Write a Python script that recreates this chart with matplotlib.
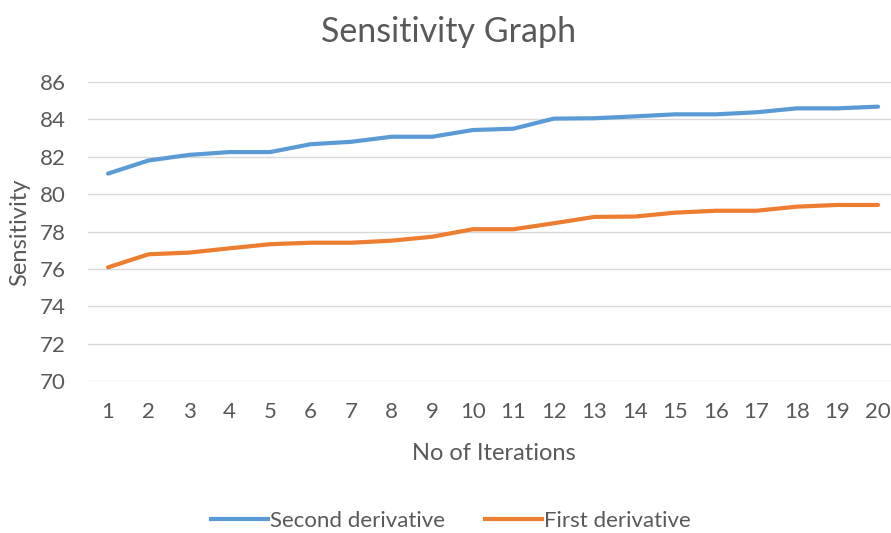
import matplotlib
matplotlib.use("Agg")
import matplotlib.pyplot as plt
from matplotlib.lines import Line2D

# --------------------- Data ---------------------
iterations = list(range(1, 21))
second_derivative = [81.1, 81.8, 82.1, 82.25, 82.25, 82.67, 82.8, 83.07, 83.07, 83.43,
                     83.5, 84.04, 84.06, 84.16, 84.27, 84.27, 84.38, 84.59, 84.59, 84.68]
first_derivative = [76.08, 76.78, 76.87, 77.1, 77.32, 77.4, 77.4, 77.51, 77.72, 78.12,
                    78.12, 78.44, 78.78, 78.8, 79.01, 79.11, 79.11, 79.33, 79.42, 79.42]
y_ticks = [70, 72, 74, 76, 78, 80, 82, 84, 86]

BLUE = "#5B9BD5"
ORANGE = "#ED7D31"
TEXT = "#595959"
GRID = "#D9D9D9"

plt.rcParams["font.family"] = ["Lato", "DejaVu Sans"]

W, H = 891, 533
fig = plt.figure(figsize=(W / 100, H / 100), dpi=100)
# axes spans category slots 0.5..20.5 (right edge slightly beyond the image)
ax = fig.add_axes([87.75 / W, 1 - 381 / H, (898.25 - 87.75) / W, (381 - 82) / H])

ax.plot(iterations, second_derivative, color=BLUE, lw=3, solid_capstyle="round",
        solid_joinstyle="round", label="Second derivative")
ax.plot(iterations, first_derivative, color=ORANGE, lw=3, solid_capstyle="round",
        solid_joinstyle="round", label="First derivative")

ax.set_xlim(0.5, 20.5)
ax.set_ylim(70, 86)
ax.set_xticks(iterations)
ax.set_yticks(y_ticks)
ax.tick_params(length=0, colors=TEXT, labelsize=16)
ax.tick_params(axis="x", pad=15)
ax.tick_params(axis="y", pad=16)
ax.grid(axis="y", color=GRID, lw=1)
ax.set_axisbelow(True)
for s in ax.spines.values():
    s.set_visible(False)

fig.text(449 / W, 1 - 32 / H, "Sensitivity Graph", ha="center", va="center",
         fontsize=24.5, color=TEXT)
fig.text(494 / W, 1 - 453 / H, "No of Iterations", ha="center", va="center",
         fontsize=17, color=TEXT)
fig.text(20 / W, 1 - 232 / H, "Sensitivity", ha="center", va="center",
         rotation=90, fontsize=17, color=TEXT)

handles = [Line2D([], [], color=BLUE, lw=3), Line2D([], [], color=ORANGE, lw=3)]
fig.legend(handles, ["Second derivative", "First derivative"], loc="center",
           bbox_to_anchor=(451 / W, 1 - 521 / H), ncol=2, frameon=False,
           fontsize=16, labelcolor=TEXT, handlelength=2.56, handletextpad=0.1,
           columnspacing=1.8)

fig.savefig("out.png", dpi=100)
